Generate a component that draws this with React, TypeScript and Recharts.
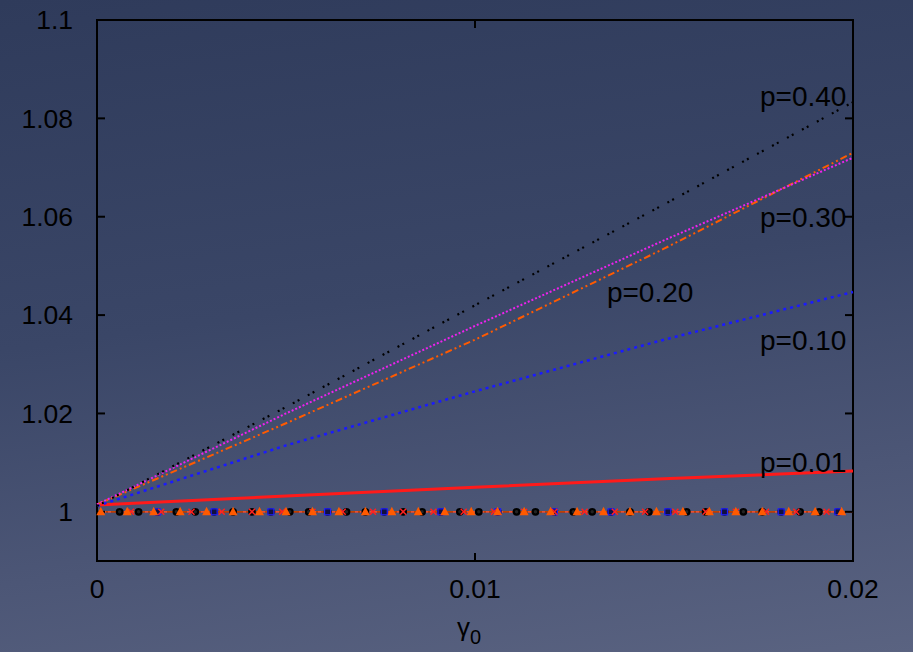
import React from 'react';
import { ComposedChart, Line, Scatter, XAxis, YAxis, ReferenceArea, ReferenceLine, ReferenceDot } from 'recharts';

// gamma_0 sample points for the curves
const gamma = [0, 0.005, 0.01, 0.015, 0.02];
const p40 = [1.0012, 1.0213, 1.042, 1.0625, 1.0833];
const p30 = [1.0015, 1.02, 1.0378, 1.0552, 1.072];
const p20 = [1.0015, 1.018, 1.035, 1.0535, 1.073];
const p10 = [1.0012, 1.0135, 1.0245, 1.035, 1.0447];
const p01 = [1.0014, 1.0032, 1.005, 1.0067, 1.0083];

// flat reference curves at 1 (marker positions)
const flatEnds = [0, 0.02];
const triangleX = [0.0001, 0.0008, 0.0015, 0.0022, 0.0029, 0.0036, 0.0043, 0.005, 0.0057, 0.0064, 0.0071, 0.0078, 0.0085, 0.0092, 0.0099, 0.0106, 0.0113, 0.012, 0.0127, 0.0134, 0.0141, 0.0148, 0.0155, 0.0162, 0.0169, 0.0176, 0.0183, 0.019, 0.0197];
const circleX = [0.0006, 0.0011, 0.0016, 0.0021, 0.0026, 0.0031, 0.0036, 0.0041, 0.0046, 0.0051, 0.0056, 0.0061, 0.0066, 0.0071, 0.0076, 0.0081, 0.0086, 0.0091, 0.0096, 0.0101, 0.0106, 0.0111, 0.0116, 0.0121, 0.0126, 0.0131, 0.0136, 0.0141, 0.0146, 0.0151, 0.0156, 0.0161, 0.0166, 0.0171, 0.0176, 0.0181, 0.0186, 0.0191, 0.0196];
const squareX = [0.0016, 0.0031, 0.0046, 0.0061, 0.0076, 0.0091, 0.0106, 0.0121, 0.0136, 0.0151, 0.0166, 0.0181, 0.0196];
const crossX = [0.0009, 0.0017, 0.0025, 0.0033, 0.0041, 0.0049, 0.0057, 0.0065, 0.0073, 0.0081, 0.0089, 0.0097, 0.0105, 0.0113, 0.0121, 0.0129, 0.0137, 0.0145, 0.0153, 0.0161, 0.0169, 0.0177, 0.0185, 0.0193];

const xTicks = [0, 0.01, 0.02];
const yTicks = [1, 1.02, 1.04, 1.06, 1.08, 1.1];

const labels = [
  { text: 'p=0.40', x: 0.01754, y: 1.0845 },
  { text: 'p=0.30', x: 0.01754, y: 1.0599 },
  { text: 'p=0.20', x: 0.01349, y: 1.0447 },
  { text: 'p=0.10', x: 0.01754, y: 1.035 },
  { text: 'p=0.01', x: 0.01754, y: 1.0102 },
];

const FONT = '"Liberation Sans", Arial, Helvetica, sans-serif';
const toPts = (xs: number[], ys: number[]) => xs.map((x, i) => ({ x, y: ys[i] }));
const flat = (xs: number[]) => xs.map(x => ({ x, y: 1 }));

const TICK_X = 0.000212;
const TICK_Y = 0.00163;

const Triangle = (props: any) => {
  const { cx, cy } = props;
  return <polygon points={`${cx - 4.5},${cy + 3.5} ${cx + 4.5},${cy + 3.5} ${cx},${cy - 5}`} fill="#ff5a00" />;
};
const Circle = (props: any) => <circle cx={props.cx} cy={props.cy} r={2.8} fill="#222" stroke="#000" strokeWidth={2.2} />;
const Square = (props: any) => (
  <rect x={props.cx - 3} y={props.cy - 3} width={6} height={6} fill="#101040" stroke="#2020ff" strokeWidth={1.2} />
);
const Cross = (props: any) => {
  const { cx, cy } = props;
  return (
    <g stroke="#ff2020" strokeWidth={1.5}>
      <line x1={cx - 3} y1={cy - 3} x2={cx + 3} y2={cy + 3} />
      <line x1={cx - 3} y1={cy + 3} x2={cx + 3} y2={cy - 3} />
    </g>
  );
};

const GammaLabel = (props: any) => {
  const vb = props.viewBox || { x: 97, y: 561, width: 756 };
  return (
    <text x={vb.x + vb.width / 2 - 6} y={vb.y + 75} textAnchor="middle" fontFamily={FONT} fontSize={26} fill="#000">
      γ<tspan fontSize={20} dy={8}>0</tspan>
    </text>
  );
};

const App: React.FC = () => {
  return (
    <div
      style={{
        position: 'absolute',
        left: 0,
        top: 0,
        width: 913,
        height: 652,
        background: 'linear-gradient(172deg, #2f3b5b 0%, #3a4667 45%, #4c5676 75%, #5a6381 100%)',
      }}
    >
      <ComposedChart width={913} height={652} margin={{ top: 20, right: 60, bottom: 0, left: 0 }}>
        <XAxis
          type="number"
          dataKey="x"
          domain={[0, 0.02]}
          ticks={xTicks}
          interval={0}
          height={91}
          axisLine={false}
          tickLine={false}
          tickMargin={12}
          tick={{ fill: '#000', fontSize: 26.5, fontFamily: FONT }}
          tickFormatter={(v: number) => (v === 0 ? '0' : v.toFixed(2))}
          label={<GammaLabel />}
        />
        <YAxis
          type="number"
          dataKey="y"
          domain={[0.99, 1.1]}
          ticks={yTicks}
          interval={0}
          width={97}
          allowDataOverflow
          axisLine={false}
          tickLine={false}
          tickMargin={18}
          tick={{ fill: '#000', fontSize: 26.5, fontFamily: FONT }}
          tickFormatter={(v: number) => (v === 1 ? '1' : v === 1.1 ? '1.1' : v.toFixed(2))}
        />

        {/* flat curves at 1 */}
        <Line data={flat(flatEnds)} dataKey="y" stroke="#dd22dd" strokeWidth={1} dot={false} isAnimationActive={false} />
        <Line data={flat(flatEnds)} dataKey="y" stroke="#000" strokeWidth={1.5} strokeDasharray="6 3 2 3" dot={false} isAnimationActive={false} />
        <Line data={flat(flatEnds)} dataKey="y" stroke="#ff5a00" strokeWidth={1.2} dot={false} isAnimationActive={false} />

        <Line data={toPts(gamma, p01)} dataKey="y" stroke="#ff1a1a" strokeWidth={3} dot={false} isAnimationActive={false} />
        <Line data={toPts(gamma, p10)} dataKey="y" stroke="#1a1aff" strokeWidth={2.5} strokeDasharray="3 4" dot={false} isAnimationActive={false} />
        <Line data={toPts(gamma, p20)} dataKey="y" stroke="#ff5a00" strokeWidth={2} strokeDasharray="7 3 2 3 2 3" dot={false} isAnimationActive={false} />
        <Line data={toPts(gamma, p30)} dataKey="y" stroke="#ee22ee" strokeWidth={2} strokeDasharray="2 2" dot={false} isAnimationActive={false} />
        <Line data={toPts(gamma, p40)} dataKey="y" stroke="#000" strokeWidth={2.2} strokeDasharray="2 3.5 2 9.5" dot={false} isAnimationActive={false} />

        <Scatter data={flat(circleX)} dataKey="y" shape={Circle} isAnimationActive={false} />
        <Scatter data={flat(squareX)} dataKey="y" shape={Square} isAnimationActive={false} />
        <Scatter data={flat(crossX)} dataKey="y" shape={Cross} isAnimationActive={false} />
        <Scatter data={flat(triangleX)} dataKey="y" shape={Triangle} isAnimationActive={false} />

        {/* frame and inward ticks */}
        <ReferenceArea x1={0} x2={0.02} y1={0.99} y2={1.1} fill="none" stroke="#000" strokeWidth={2} />
        {yTicks.map(t => (
          <ReferenceLine key={`l${t}`} segment={[{ x: 0, y: t }, { x: TICK_X, y: t }]} stroke="#000" strokeWidth={2} />
        ))}
        {yTicks.map(t => (
          <ReferenceLine key={`r${t}`} segment={[{ x: 0.02 - TICK_X, y: t }, { x: 0.02, y: t }]} stroke="#000" strokeWidth={2} />
        ))}
        {xTicks.map(t => (
          <ReferenceLine key={`b${t}`} segment={[{ x: t, y: 0.99 }, { x: t, y: 0.99 + TICK_Y }]} stroke="#000" strokeWidth={2} />
        ))}
        {xTicks.map(t => (
          <ReferenceLine key={`t${t}`} segment={[{ x: t, y: 1.1 - TICK_Y }, { x: t, y: 1.1 }]} stroke="#000" strokeWidth={2} />
        ))}

        {labels.map(l => (
          <ReferenceDot
            key={l.text}
            x={l.x}
            y={l.y}
            r={0}
            fill="none"
            stroke="none"
            label={{ value: l.text, position: 'right', offset: 0, fill: '#000', fontSize: 28, fontFamily: FONT }}
          />
        ))}
      </ComposedChart>
    </div>
  );
};

export default App;
